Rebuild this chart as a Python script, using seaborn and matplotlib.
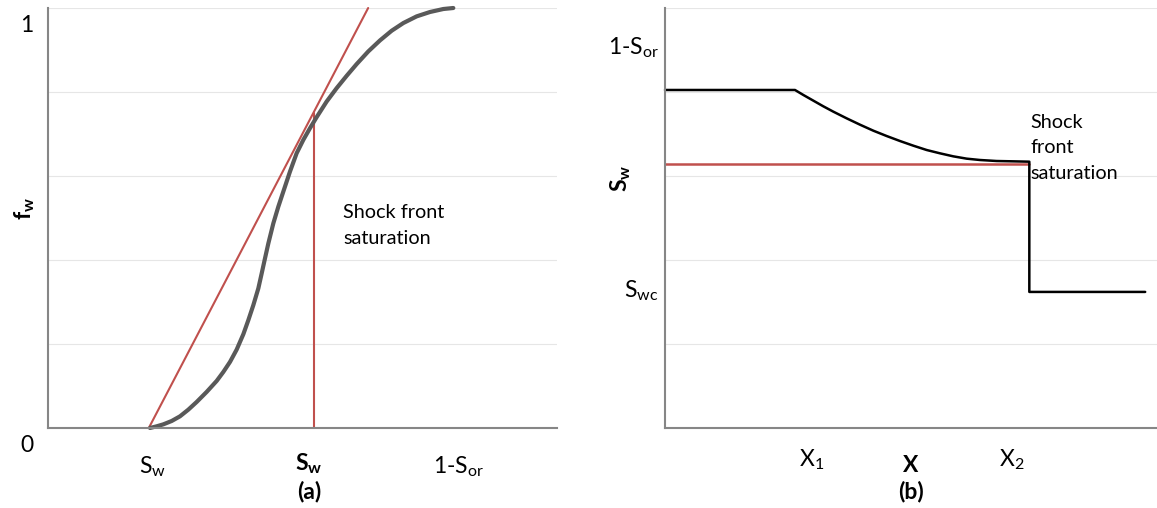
import numpy as np
import pandas as pd
import matplotlib
matplotlib.use("Agg")
import matplotlib.pyplot as plt
import matplotlib.transforms as mtransforms
import seaborn as sns

# ---------------- data ----------------
# (a) fractional flow curve f_w(S_w)
fw_sw = [0.2004, 0.2135, 0.2266, 0.2430, 0.2593, 0.2757, 0.2921, 0.3117, 0.3314, 0.3445,
         0.3576, 0.3707, 0.3838, 0.3936, 0.4034, 0.4132, 0.4198, 0.4263, 0.4329, 0.4427,
         0.4525, 0.4623, 0.4754, 0.4885, 0.5016, 0.5147, 0.5278, 0.5475, 0.5671, 0.5868,
         0.6064, 0.6293, 0.6523, 0.6752, 0.6981, 0.7243, 0.7505, 0.7767, 0.7963]
fw_val = [0.0000, 0.0040, 0.0087, 0.0167, 0.0278, 0.0437, 0.0620, 0.0859, 0.1121, 0.1335,
          0.1574, 0.1868, 0.2234, 0.2568, 0.2925, 0.3323, 0.3680, 0.4038, 0.4396, 0.4873,
          0.5270, 0.5628, 0.6105, 0.6542, 0.6860, 0.7138, 0.7401, 0.7774, 0.8092, 0.8386,
          0.8665, 0.8967, 0.9229, 0.9459, 0.9642, 0.9801, 0.9905, 0.9976, 1.0000]
tangent_sw = [0.198, 0.629]
tangent_fw = [0.000, 1.000]
shock_sw = [0.523, 0.523]
shock_fw = [0.000, 0.750]
left_xticks = [0.206, 0.806]
left_xticklabels = [r"$\mathrm{S_w}$", r"1-$\mathrm{S_{or}}$"]
left_ytick_vals = [0, 1]
left_ytick_labels = ["0", "1"]
left_xlabel = r"$\mathbf{S_w}$"
left_caption = "(a)"
left_ylabel = r"$\mathbf{f_w}$"

# (b) saturation profile S_w(x)
profile_x = [0.0000, 0.2642, 0.2812, 0.3015, 0.3218, 0.3421, 0.3692, 0.3963, 0.4234, 0.4505,
             0.4776, 0.5047, 0.5318, 0.5589, 0.5860, 0.6131, 0.6402, 0.6741, 0.7080, 0.7405,
             0.7405, 0.9760]
profile_sw = [0.8048, 0.8048, 0.7929, 0.7794, 0.7659, 0.7532, 0.7373, 0.7222, 0.7079, 0.6952,
              0.6833, 0.6722, 0.6619, 0.6540, 0.6468, 0.6413, 0.6381, 0.6357, 0.6349, 0.6341,
              0.3240, 0.3240]
shock_level_x = [0.000, 0.7405]
shock_level_sw = [0.629, 0.629]
right_xticks = [0.297, 0.705]
right_xticklabels = [r"$\mathrm{X_1}$", r"$\mathrm{X_2}$"]
right_yticks = [0.333, 0.912]
right_yticklabels = [r"$\mathrm{S_{wc}}$", r"1-$\mathrm{S_{or}}$"]
right_xlabel = "X"
right_caption = "(b)"
right_ylabel = r"$\mathbf{S_w}$"

grid_levels = [0.0, 0.2, 0.4, 0.6, 0.8, 1.0]
annotation_left = "Shock front\nsaturation"
annotation_right = "Shock\nfront\nsaturation"

# ---------------- style ----------------
sns.set_style("white")
plt.rcParams["font.family"] = ["Lato", "DejaVu Sans"]
plt.rcParams["mathtext.fontset"] = "custom"
plt.rcParams["mathtext.rm"] = "Lato"
plt.rcParams["mathtext.it"] = "Lato:italic"
plt.rcParams["mathtext.bf"] = "Lato:bold"
plt.rcParams["mathtext.sf"] = "Lato"
for k in ("text.color", "axes.labelcolor", "xtick.color", "ytick.color"):
    plt.rcParams[k] = "black"

RED = "#c0504d"
GRAY = "#595959"
SPINE = "#868686"
GRID = "#e6e6e6"
TICK_FS = 16.5
NOTE_FS = 14.3

W, H = 1157, 508
fig = plt.figure(figsize=(W / 100, H / 100), dpi=100)
axL = fig.add_axes([48 / W, 80 / H, 509 / W, 420 / H])
axR = fig.add_axes([665 / W, 80 / H, 492 / W, 420 / H])

for ax in (axL, axR):
    ax.set_xlim(0, 1)
    ax.set_ylim(0, 1)
    ax.set_yticks(grid_levels, minor=True)
    ax.yaxis.grid(True, which="minor", color=GRID, lw=0.8)
    ax.yaxis.grid(False, which="major")
    ax.xaxis.grid(False)
    ax.tick_params(which="both", length=0)
    for s in ("top", "right"):
        ax.spines[s].set_visible(False)
    for s in ("left", "bottom"):
        ax.spines[s].set_color(SPINE)
        ax.spines[s].set_linewidth(1.5)
    ax.set_axisbelow(True)

# ---------------- (a) ----------------
sns.lineplot(data=pd.DataFrame({"Sw": tangent_sw, "fw": tangent_fw}), x="Sw", y="fw",
             ax=axL, color=RED, lw=1.5, clip_on=False, estimator=None, sort=False)
sns.lineplot(data=pd.DataFrame({"Sw": shock_sw, "fw": shock_fw}), x="Sw", y="fw",
             ax=axL, color=RED, lw=1.5, clip_on=False, estimator=None, sort=False)
sns.lineplot(data=pd.DataFrame({"Sw": fw_sw, "fw": fw_val}), x="Sw", y="fw", ax=axL,
             color=GRAY, lw=3.0, clip_on=False, estimator=None, sort=False,
             solid_joinstyle="round", solid_capstyle="round")

axL.set_xticks(left_xticks)
axL.set_xticklabels(left_xticklabels, fontsize=TICK_FS)
axL.tick_params(axis="x", pad=19)
axL.set_yticks([])
off = mtransforms.ScaledTranslation(0, -0.17, fig.dpi_scale_trans)
for v, lab in zip(left_ytick_vals, left_ytick_labels):
    axL.text(-0.041, v, lab, transform=axL.get_yaxis_transform() + off,
             ha="center", va="center", fontsize=TICK_FS)

axL.set_xlabel(left_xlabel, fontsize=TICK_FS)
axL.xaxis.set_label_coords(0.513, -0.055)
axL.xaxis.label.set_va("top")
axL.text(0.513, -0.152, left_caption, transform=axL.transAxes, ha="center",
         va="center", fontsize=TICK_FS, fontweight="bold")
axL.set_ylabel(left_ylabel, fontsize=TICK_FS)
axL.yaxis.set_label_coords(-0.045, 0.522)
axL.yaxis.label.set_va("center")
axL.text(0.580, 0.533, annotation_left, transform=axL.transAxes, ha="left", va="top",
         fontsize=NOTE_FS, linespacing=1.6)

# ---------------- (b) ----------------
sns.lineplot(data=pd.DataFrame({"x": shock_level_x, "Sw": shock_level_sw}), x="x", y="Sw",
             ax=axR, color=RED, lw=1.8, clip_on=False, estimator=None, sort=False)
sns.lineplot(data=pd.DataFrame({"x": profile_x, "Sw": profile_sw}), x="x", y="Sw",
             ax=axR, color="black", lw=1.8, clip_on=False, estimator=None, sort=False,
             solid_joinstyle="round")

axR.set_xticks(right_xticks)
axR.set_xticklabels(right_xticklabels, fontsize=TICK_FS)
axR.tick_params(axis="x", pad=14)
axR.set_yticks(right_yticks)
axR.set_yticklabels(right_yticklabels, fontsize=TICK_FS)
axR.tick_params(axis="y", pad=4.5)

axR.set_xlabel(right_xlabel, fontsize=TICK_FS, fontweight="bold")
axR.xaxis.set_label_coords(0.5, -0.064)
axR.xaxis.label.set_va("top")
axR.text(0.5, -0.152, right_caption, transform=axR.transAxes, ha="center",
         va="center", fontsize=TICK_FS, fontweight="bold")
axR.set_ylabel(right_ylabel, fontsize=TICK_FS)
axR.yaxis.set_label_coords(-0.091, 0.595)
axR.yaxis.label.set_va("center")
axR.text(0.742, 0.748, annotation_right, transform=axR.transAxes,
         ha="left", va="top", fontsize=NOTE_FS, linespacing=1.6)

fig.savefig("out.png", dpi=100)
